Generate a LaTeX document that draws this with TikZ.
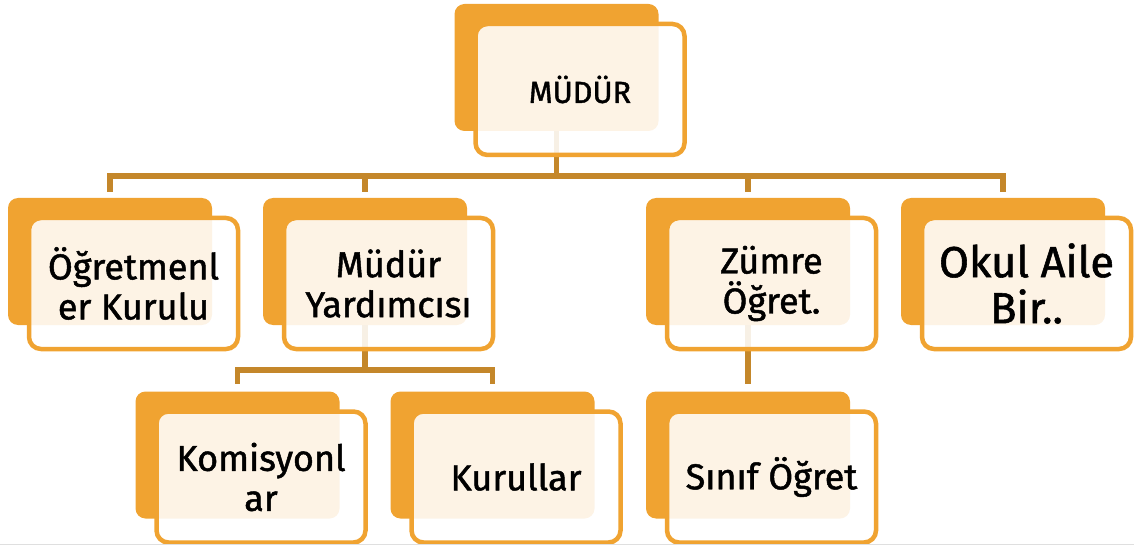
\documentclass[tikz,border=0pt]{standalone}
\usepackage{fontspec}
\setmainfont{Fira Sans}[FakeBold=1.3, AutoFakeBold=1.3]
\usepackage{xcolor}
\usepackage{tikz}
\usetikzlibrary{positioning}

\definecolor{boxorange}{HTML}{F0A331}
\definecolor{linegold}{HTML}{C4872A}

\begin{document}
\begin{tikzpicture}[x=1pt, y=-1pt, node distance=255pt, on grid,
  back/.style = {rectangle, rounded corners=10pt, fill=boxorange, minimum width=204pt, minimum height=127pt, inner sep=0pt},
  front/.style = {rectangle, rounded corners=12pt, draw=boxorange, line width=4.5pt, fill=white, fill opacity=0.88, text opacity=1, minimum width=209pt, minimum height=131pt, inner sep=0pt, align=center, xshift=23.5pt, yshift=-22pt, font=\fontsize{36}{40}\selectfont\bfseries},
  conn/.style = {draw=linegold, line width=5.5pt}]
\useasboundingbox (0,0) rectangle (1134,545);
\node[back] (bm) at (556.5,67.5) {};
\node[back] (b1) at (110,261.5) {};
\node[back] (b2) [right=of b1] {};
\node[back] (b3) [right=383pt of b2] {};
\node[back] (b4) [right=of b3] {};
\node[back] (b5) at (237.5,455) {};
\node[back] (b6) [right=of b5] {};
\node[back] (b7) [below=193.5pt of b3] {};
% connectors
\draw[conn] (bm.south) -- ++(0,45) coordinate (hm);
\foreach \n in {b1,b2,b3,b4} \draw[conn, shorten >=6pt] (hm) -| (\n);
\draw[conn] (b2.south) -- ++(0,45) coordinate (h2);
\foreach \n in {b5,b6} \draw[conn, shorten >=7pt] (h2) -| (\n);
\draw[conn, shorten >=7pt] (b3.south) -- (b7);
% boxes in front
\node[front, font=\fontsize{30.5}{34}\selectfont\bfseries] (fm) at (bm) {MÜDÜR};
\node[front] (f1) at (b1) {Öğretmenl\\er Kurulu};
\node[front] (f2) at (b2) {Müdür\\Yardımcısı};
\node[front] (f3) at (b3) {Zümre\\Öğret.};
\node[front, font=\fontsize{43.5}{46}\selectfont\bfseries] (f4) at (b4) {Okul Aile\\Bir..};
\node[front] (f5) at (b5) {Komisyonl\\ar};
\node[front] (f6) at (b6) {Kurullar};
\node[front] (f7) at (b7) {Sınıf Öğret};
\draw[gray!25, line width=1pt] (0,544.5) -- (1134,544.5);
\end{tikzpicture}
\end{document}
